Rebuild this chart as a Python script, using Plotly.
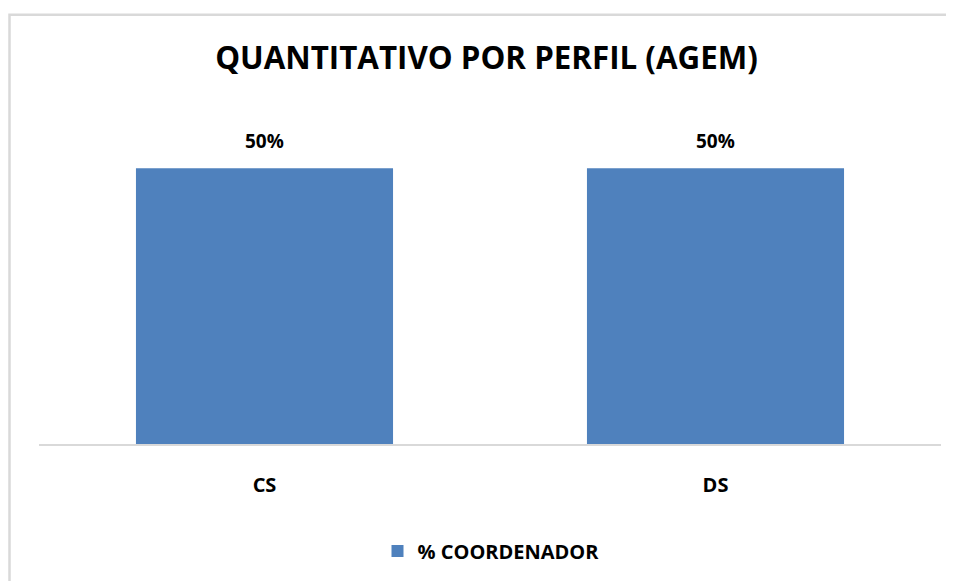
import plotly.graph_objects as go

categories = ["CS", "DS"]
values = [0.5, 0.5]
series_name = "% COORDENADOR"
title_text = "QUANTITATIVO POR PERFIL (AGEM)"

# the page places the figure 8px from the top-left corner (body margin)
W, H = 946, 573
L, R, T, B = 31, 13, 105, 136
pw, ph = W - L - R, H - T - B

def px_x(x):
    return (x - L) / pw

def px_y(y):
    return (H - B - y) / ph

FONT = "Open Sans"
BLUE = "#4f81bd"

fig = go.Figure()
fig.add_trace(go.Bar(
    x=categories, y=values, name="<b>" + series_name + "</b>",
    marker=dict(color=BLUE, line=dict(width=0)),
    showlegend=True,
))

for c, v in zip(categories, values):
    fig.add_annotation(x=c, y=v, xref="x", yref="y", text="<b>{:.0%}</b>".format(v),
                       showarrow=False, yshift=27, yanchor="middle",
                       font=dict(family=FONT, size=19, color="black"))

fig.update_layout(
    width=W, height=H,
    margin=dict(l=L, r=R, t=T, b=B),
    paper_bgcolor="white", plot_bgcolor="white",
    bargap=0.43,
    title=dict(text="<b>" + title_text + "</b>", x=478.5 / W, xanchor="center",
               y=1 - 50.5 / H, yanchor="middle", yref="container",
               font=dict(family=FONT, size=31.3, color="black")),
    xaxis=dict(showline=True, linecolor="#d9d9d9", linewidth=2, showgrid=False,
               ticks="outside", ticklen=22, tickcolor="rgba(0,0,0,0)",
               tickfont=dict(family=FONT, size=20, color="black"),
               tickprefix="<b>", ticksuffix="</b>", zeroline=False),
    yaxis=dict(range=[0, 0.6], visible=False),
    legend=dict(orientation="h", x=px_x(483), xanchor="center",
                y=px_y(543), yanchor="middle",
                font=dict(family=FONT, size=20, color="black")),
    shapes=[dict(type="rect", xref="paper", yref="paper",
                 x0=px_x(1.5), x1=px_x(980), y0=px_y(600), y1=px_y(6.5),
                 line=dict(color="#d9d9d9", width=2.5), layer="below")],
)

fig.write_html("out.html")
